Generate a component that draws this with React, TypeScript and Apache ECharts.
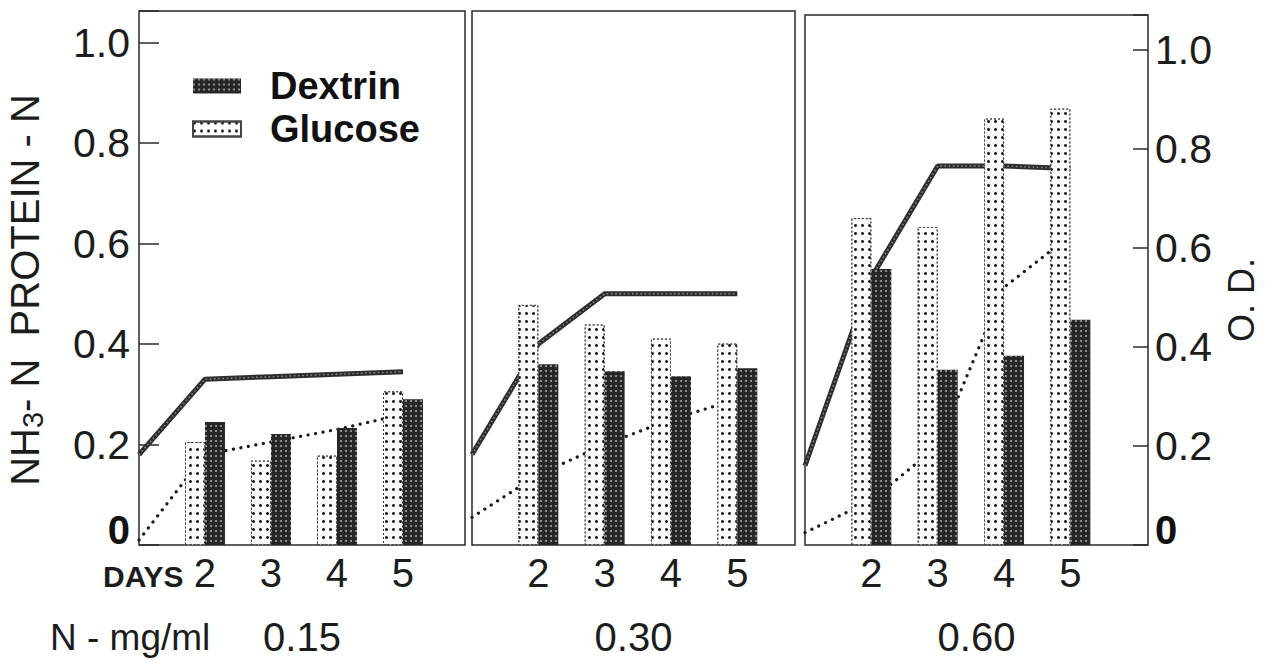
import React, { useEffect, useRef } from 'react';
import * as echarts from 'echarts';

// ---- data ----
const lineDays = [1, 2, 3, 4, 5];
const barDays = [2, 3, 4, 5];
const nLevels = ['0.15', '0.30', '0.60'];

const glucose015 = [0.205, 0.168, 0.178, 0.306];
const dextrin015 = [0.245, 0.221, 0.233, 0.29];
const solid015 = [0.18, 0.33, 0.335, 0.34, 0.345];
const dotted015 = [0.01, 0.18, 0.205, 0.23, 0.26];

const glucose030 = [0.478, 0.439, 0.411, 0.401];
const dextrin030 = [0.36, 0.346, 0.336, 0.352];
const solid030 = [0.18, 0.4, 0.5, 0.5, 0.5];
const dotted030 = [0.055, 0.14, 0.2, 0.25, 0.29];

const glucose060 = [0.66, 0.642, 0.861, 0.881];
const dextrin060 = [0.557, 0.354, 0.382, 0.455];
const solid060 = [0.16, 0.54, 0.765, 0.765, 0.76];
const dotted060 = [0.025, 0.09, 0.2, 0.52, 0.625];

const glucoseSets = [glucose015, glucose030, glucose060];
const dextrinSets = [dextrin015, dextrin030, dextrin060];
const solidSets = [solid015, solid030, solid060];
const dottedSets = [dotted015, dotted030, dotted060];

// ---- layout ----
const panels = [
  { left: 139, width: 326, top: 11, bottom: 113, xMax: 5.94, yMax: 1.063 },
  { left: 472, width: 323, top: 11, bottom: 113, xMax: 5.87, yMax: 1.063 },
  { left: 805, width: 343, top: 15, bottom: 109, xMax: 6.17, yMax: 1.07 },
];

const FONT = 'Liberation Sans, Arial, sans-serif';
const INK = '#1c1c1c';

const glucoseDecal = {
  symbol: 'circle',
  symbolSize: 1,
  color: '#151515',
  dashArrayX: [2.8, 3.8],
  dashArrayY: [2.8, 4.2],
  rotation: 0,
};
const dextrinDecal = {
  symbol: 'circle',
  symbolSize: 1,
  color: 'rgba(255,255,255,0.55)',
  dashArrayX: [1.3, 2.1],
  dashArrayY: [1.3, 2.1],
  rotation: 0,
};

const yLabelFormatter = (v: number) => {
  if (Math.abs(v) < 1e-9) return '{z|0}';
  if (v > 1.001) return '';
  return v.toFixed(1);
};

export default function App() {
  const ref = useRef<HTMLDivElement>(null);
  useEffect(() => {
    if (!ref.current) return;
    const chart = echarts.init(ref.current, undefined, { renderer: 'svg' });

    const grid = panels.map((p) => ({
      left: p.left,
      width: p.width,
      top: p.top,
      bottom: p.bottom,
      show: true,
      borderColor: '#2a2a2a',
      borderWidth: 1.5,
      backgroundColor: 'transparent',
    }));

    const xAxis = panels.map((p, i) => ({
      type: 'value',
      gridIndex: i,
      min: 1,
      max: p.xMax,
      interval: 1,
      axisLine: { show: false },
      axisTick: { show: false },
      splitLine: { show: false },
      axisLabel: {
        formatter: (v: number) => (barDays.includes(Math.round(v * 1000) / 1000) ? String(v) : ''),
        fontSize: 40,
        color: INK,
        margin: 8,
        fontFamily: FONT,
      },
      name: nLevels[i],
      nameLocation: 'middle',
      nameGap: 72,
      nameTextStyle: { fontSize: 40, color: INK, fontFamily: FONT },
    }));

    const yAxis = panels.map((p, i) => ({
      type: 'value',
      gridIndex: i,
      min: 0,
      max: p.yMax,
      interval: 0.2,
      position: i === 2 ? 'right' : 'left',
      show: i !== 1,
      axisLine: { show: false },
      splitLine: { show: false },
      axisTick: {
        show: true,
        inside: true,
        length: i === 0 ? 20 : 15,
        lineStyle: { color: '#2a2a2a', width: 1.5 },
      },
      axisLabel: {
        formatter: yLabelFormatter,
        fontSize: 41,
        color: INK,
        margin: i === 0 ? 9 : 7,
        fontFamily: FONT,
        rich: {
          z: { fontSize: 40, fontWeight: 'bold', color: '#111', fontFamily: FONT, padding: [0, 0, 30, 0] },
        },
      },
    }));

    const series: any[] = [];
    panels.forEach((_, i) => {
      const solidData = lineDays.map((d, k) => [d, solidSets[i][k]]);
      series.push({
        name: 'Solid',
        type: 'line',
        xAxisIndex: i,
        yAxisIndex: i,
        data: solidData,
        symbol: 'none',
        silent: true,
        z: 2,
        lineStyle: { color: '#2d2d2d', width: 5 },
      });
      series.push({
        name: 'SolidTexture',
        type: 'line',
        xAxisIndex: i,
        yAxisIndex: i,
        data: solidData,
        symbol: 'none',
        silent: true,
        z: 2,
        lineStyle: { color: '#8c8c8c', width: 1.4, type: [1.6, 2.6] },
      });
      series.push({
        name: 'Dotted',
        type: 'line',
        xAxisIndex: i,
        yAxisIndex: i,
        data: lineDays.map((d, k) => [d, dottedSets[i][k]]),
        symbol: 'none',
        silent: true,
        z: 2,
        lineStyle: { color: '#1a1a1a', width: 3.2, type: [0.1, 7.5], cap: 'round' },
      });
      series.push({
        name: 'Glucose',
        type: 'bar',
        xAxisIndex: i,
        yAxisIndex: i,
        data: barDays.map((d, k) => [d, glucoseSets[i][k]]),
        barWidth: 20,
        barGap: '0%',
        z: 3,
        itemStyle: {
          color: '#ffffff',
          borderColor: '#444',
          borderWidth: 1,
          borderType: [2, 2],
          decal: glucoseDecal,
        },
      });
      series.push({
        name: 'Dextrin',
        type: 'bar',
        xAxisIndex: i,
        yAxisIndex: i,
        data: barDays.map((d, k) => [d, dextrinSets[i][k]]),
        barWidth: 20,
        barGap: '0%',
        z: 3,
        itemStyle: { color: '#262626', decal: dextrinDecal },
      });
    });

    chart.setOption({
      animation: false,
      backgroundColor: '#ffffff',
      grid,
      xAxis,
      yAxis,
      series,
      legend: {
        data: ['Dextrin', 'Glucose'],
        orient: 'vertical',
        left: 187,
        top: 62,
        icon: 'rect',
        itemWidth: 48,
        itemHeight: 15,
        itemGap: 5,
        textStyle: {
          fontSize: 38,
          fontWeight: 'bold',
          color: '#111',
          fontFamily: FONT,
          lineHeight: 38,
          padding: [0, 0, 0, 24],
        },
      },
      graphic: [
        {
          type: 'text',
          x: 25,
          y: 290,
          rotation: Math.PI / 2,
          style: {
            text: 'NH{s|3}- N  PROTEIN - N',
            fontSize: 40,
            fontFamily: FONT,
            fill: INK,
            align: 'center',
            verticalAlign: 'middle',
            rich: {
              s: { fontSize: 29, fontFamily: FONT, fill: INK, verticalAlign: 'bottom', padding: [16, 0, 0, 0] },
            },
          },
        },
        {
          type: 'text',
          x: 1241,
          y: 300,
          rotation: Math.PI / 2,
          style: {
            text: 'O. D.',
            fontSize: 36,
            fontFamily: FONT,
            fill: INK,
            align: 'center',
            verticalAlign: 'middle',
          },
        },
        {
          type: 'text',
          x: 103,
          y: 576,
          style: {
            text: 'DAYS',
            fontSize: 30,
            fontWeight: 'bold',
            fontFamily: FONT,
            fill: INK,
            align: 'left',
            verticalAlign: 'middle',
          },
        },
        {
          type: 'text',
          x: 50,
          y: 637,
          style: {
            text: 'N - mg/ml',
            fontSize: 37,
            fontFamily: FONT,
            fill: INK,
            align: 'left',
            verticalAlign: 'middle',
          },
        },
      ],
    });

    return () => chart.dispose();
  }, []);

  return (
    <div
      ref={ref}
      style={{ position: 'absolute', left: 0, top: 0, width: 1270, height: 662, background: '#fff' }}
    />
  );
}
